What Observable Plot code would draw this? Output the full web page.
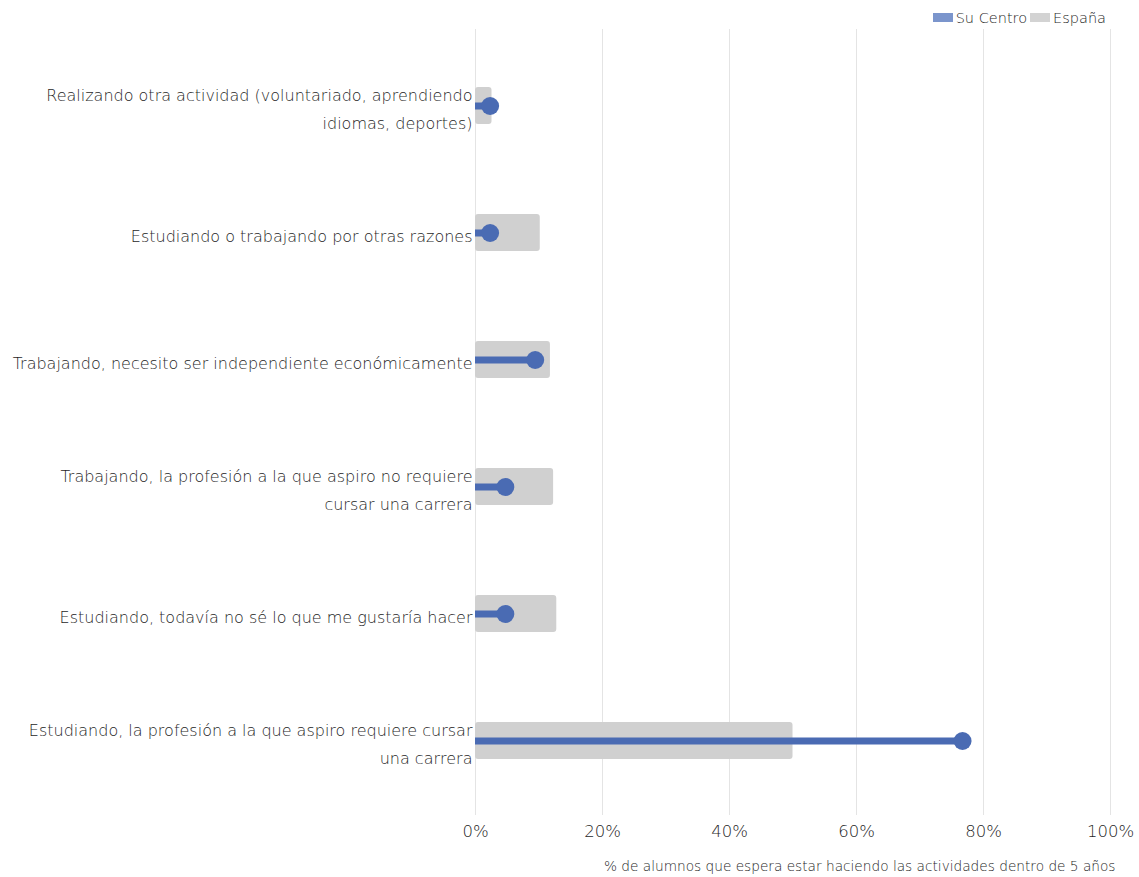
<!DOCTYPE html>
<html><head><meta charset="utf-8">
<script src="https://cdn.jsdelivr.net/npm/d3@7"></script>
<script src="https://cdn.jsdelivr.net/npm/@observablehq/plot@0.6"></script>
<style>
html,body{margin:0;padding:0;background:#fff;overflow:hidden;}
body{font-family:"DejaVu Sans",sans-serif;}
#legend{height:29px;display:flex;justify-content:flex-end;align-items:center;padding-right:33px;box-sizing:border-box;font-size:14.5px;color:#1f1f1f;font-weight:200;padding-top:6px;}
#legend span.sw{display:inline-block;width:20px;height:9px;margin-right:3px;}
#legend span.item{display:flex;align-items:center;margin-left:3px;}
#chart svg{display:block;}
</style></head><body>
<div id="legend"></div>
<div id="chart"></div>
<script>
const categories = [
  "Realizando otra actividad (voluntariado, aprendiendo idiomas, deportes)",
  "Estudiando o trabajando por otras razones",
  "Trabajando, necesito ser independiente económicamente",
  "Trabajando, la profesión a la que aspiro no requiere cursar una carrera",
  "Estudiando, todavía no sé lo que me gustaría hacer",
  "Estudiando, la profesión a la que aspiro requiere cursar una carrera"
];
const categoryLabels = [
  "Realizando otra actividad (voluntariado, aprendiendo\nidiomas, deportes)",
  "Estudiando o trabajando por otras razones",
  "Trabajando, necesito ser independiente económicamente",
  "Trabajando, la profesión a la que aspiro no requiere\ncursar una carrera",
  "Estudiando, todavía no sé lo que me gustaría hacer",
  "Estudiando, la profesión a la que aspiro requiere cursar\nuna carrera"
];
const espana = [2.6, 10.2, 11.8, 12.3, 12.8, 50.0];
const suCentro = [2.3, 2.3, 9.4, 4.7, 4.7, 76.7];
const xTicks = [0, 20, 40, 60, 80, 100];
const seriesNames = ["Su Centro", "España"];
const seriesColors = ["#4a6bb3", "#d0d0d0"];
const legendColors = ["#7b95cc", "#d3d3d3"];
const xLabel = "% de alumnos que espera estar haciendo las actividades dentro de 5 años";

const rows = categories.map((c, i) => ({cat: c, label: categoryLabels[i], espana: espana[i], centro: suCentro[i]}));
const labelOf = new Map(rows.map(r => [r.cat, r.label]));

const legend = document.getElementById("legend");
seriesNames.forEach((n, i) => {
  const it = document.createElement("span");
  it.className = "item";
  it.innerHTML = `<span class="sw" style="background:${legendColors[i]}"></span>${n}`;
  legend.appendChild(it);
});

const chart = Plot.plot({
  width: 1139,
  height: 848,
  marginTop: 0,
  marginLeft: 475,
  marginRight: 29,
  marginBottom: 62,
  style: {fontFamily: "'DejaVu Sans', sans-serif", fontSize: "16px", color: "#1f1f1f", fontWeight: 200},
  x: {domain: [0, 100], ticks: xTicks},
  y: {domain: categories, range: [11, 776], padding: 0},
  marks: [
    Plot.gridX(xTicks, {stroke: "#e4e4e4", strokeOpacity: 1, strokeWidth: 1}),
    Plot.axisX(xTicks, {tickSize: 0, tickPadding: 10, tickFormat: d => d + "%", fontSize: 16.5, label: null}),
    Plot.text([xLabel], {frameAnchor: "bottom-right", dx: 5, dy: 51, lineAnchor: "middle", textAnchor: "end", fontSize: 13.7, fill: "#1f1f1f"}),
    Plot.axisY({tickSize: 0, tickPadding: 3, tickFormat: d => labelOf.get(d), lineHeight: 1.75, label: null, fontSize: 16}),
    Plot.barX(rows, {x1: 0, x2: "espana", y: "cat", fill: seriesColors[1], rx: 3, insetTop: 45, insetBottom: 45}),
    Plot.ruleY(rows, {x1: 0, x2: "centro", y: "cat", stroke: seriesColors[0], strokeWidth: 7}),
    Plot.dot(rows, {x: "centro", y: "cat", r: 9, fill: seriesColors[0], stroke: "none"})
  ]
});
document.getElementById("chart").appendChild(chart);
</script>
</body></html>
